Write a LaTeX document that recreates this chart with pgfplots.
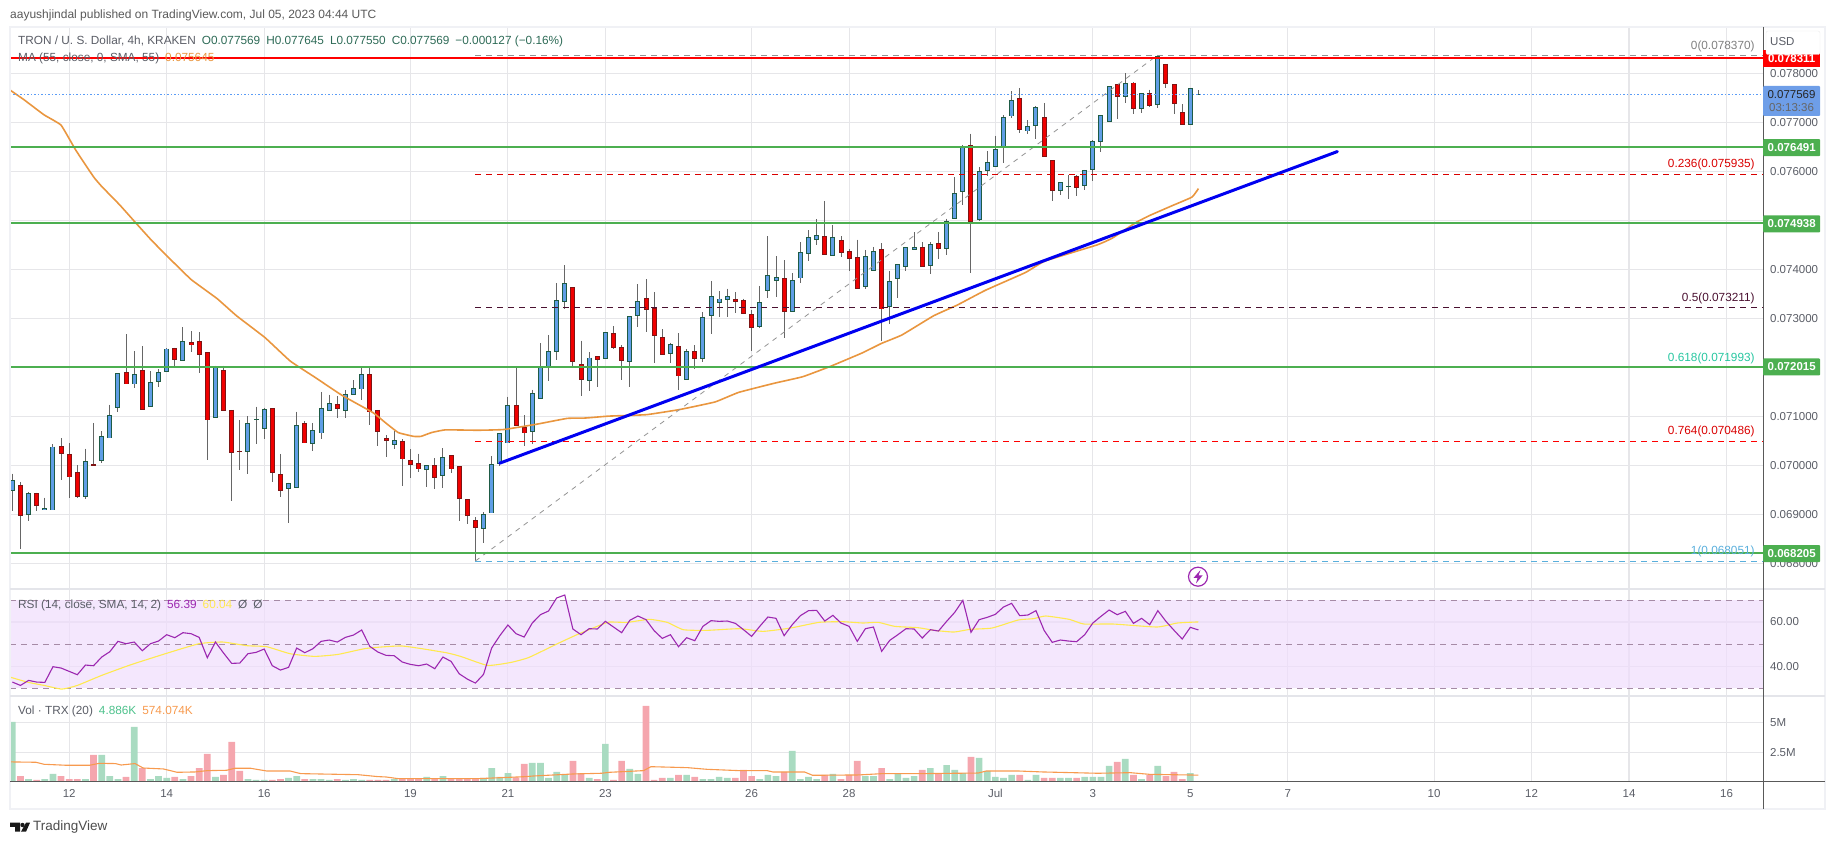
\documentclass[border=0pt]{standalone}
\usepackage{fontspec}
\setmainfont{Liberation Sans}
\usepackage{pgfplots}
\usepackage{pgfplotstable}
\pgfplotsset{compat=1.18}
\definecolor{gridc}{HTML}{E6E6E9}
\definecolor{sepc}{HTML}{E4E5EA}
\definecolor{framec}{HTML}{F0F1F5}
\definecolor{upf}{HTML}{5F9EE6}
\definecolor{upb}{HTML}{1E5B45}
\definecolor{dnf}{HTML}{F00000}
\definecolor{dnb}{HTML}{7F1414}
\definecolor{wick}{HTML}{666666}
\definecolor{lvl}{HTML}{4CAF50}
\definecolor{maline}{HTML}{E9963F}
\definecolor{txt}{HTML}{5A5D66}
\definecolor{ohlc}{HTML}{2E6B57}
\definecolor{rsip}{HTML}{9C27B0}
\definecolor{rsiy}{HTML}{FFE94F}
\definecolor{volg}{HTML}{A9DBC1}
\definecolor{volr}{HTML}{F5A6AE}
\definecolor{volma}{HTML}{F79A4E}
% price columns in thousandths of a dollar (0.069835 -> 69.835), volume in millions
\pgfplotstableread{
i d h t b l v
0 1 69.835 69.695 69.484 69.070 5.03
1 0 69.656 69.593 68.976 68.289 .50
2 1 69.460 69.429 68.992 68.859 .25
3 0 69.445 69.429 69.179 69.070 .17
4 1 69.343 69.117 69.093 69.085 .25
5 1 70.436 70.374 69.093 69.085 .67
6 0 70.553 70.382 70.249 69.703 .50
7 0 70.451 70.225 69.765 69.335 .25
8 0 70.007 69.859 69.359 69.343 .25
9 1 70.342 70.077 69.367 69.320 .25
10 0 70.865 70.015 70.000 69.992 2.26
11 1 70.693 70.592 70.093 70.046 2.26
12 1 71.240 71.013 70.561 70.553 .50
13 1 71.880 71.872 71.177 71.084 .25
14 0 72.676 71.895 71.661 71.653 .42
15 1 72.332 71.856 71.661 71.583 4.61
16 0 72.426 71.934 71.138 71.138 1.15
17 1 71.919 71.693 71.201 71.193 .25
18 1 71.958 71.895 71.708 71.607 .50
19 1 72.387 72.372 71.919 71.911 .34
20 0 72.403 72.387 72.153 72.036 .42
21 1 72.816 72.528 72.137 72.129 .25
22 0 72.738 72.504 72.457 72.309 .50
23 0 72.715 72.528 72.254 71.880 1.17
24 0 72.309 72.301 70.927 70.108 2.35
25 1 72.036 71.997 70.974 70.966 .42
26 0 72.036 71.934 71.115 71.107 .59
27 0 71.130 71.123 70.256 69.280 3.35
28 0 70.919 70.279 70.272 69.905 .92
29 1 71.005 70.857 70.279 69.827 .25
30 1 71.201 70.935 70.927 70.436 .17
31 1 71.177 71.138 70.748 70.537 .17
32 0 71.162 71.162 69.850 69.656 .17
33 0 70.233 69.811 69.484 69.351 .25
34 1 69.648 69.632 69.523 68.828 .34
35 1 71.099 70.810 69.546 69.538 .50
36 0 70.904 70.857 70.459 70.451 .25
37 1 70.865 70.709 70.443 70.295 .25
38 1 71.497 71.162 70.662 70.537 .25
39 1 71.443 71.263 71.123 71.115 .17
40 0 71.411 71.240 71.154 70.974 .25
41 1 71.529 71.443 71.115 70.974 .17
42 1 71.739 71.568 71.443 71.427 .25
43 1 72.020 71.856 71.560 71.333 .17
44 0 72.020 71.856 71.091 70.826 .17
45 0 71.130 71.123 70.685 70.397 .17
46 0 70.615 70.545 70.506 70.170 .17
47 1 70.693 70.506 70.428 70.334 .25
48 0 70.537 70.490 70.132 69.578 .25
49 0 70.334 70.093 70.015 69.741 .25
50 0 70.240 70.038 69.928 69.874 .25
51 1 70.007 69.991 69.913 69.554 .42
52 0 70.147 69.991 69.749 69.515 .25
53 1 70.350 70.163 69.788 69.546 .50
54 0 70.202 70.202 69.928 69.843 .25
55 0 69.983 69.975 69.320 68.859 .25
56 0 69.312 69.304 68.976 68.804 .25
57 0 68.944 68.874 68.726 68.051 .25
58 1 69.046 68.999 68.710 68.421 .34
59 1 70.186 70.015 69.030 69.023 1.17
60 1 70.654 70.647 70.046 69.983 .42
61 1 71.404 71.224 70.459 70.451 .75
62 0 72.012 71.224 70.810 70.802 .39
63 0 71.021 70.771 70.662 70.397 1.51
64 1 71.544 71.466 70.693 70.436 1.59
65 1 72.496 72.012 71.357 71.349 1.59
66 1 72.660 72.325 72.020 71.724 .34
67 1 73.714 73.355 72.325 72.153 .84
68 1 74.081 73.706 73.339 73.183 .59
69 0 73.636 73.628 72.122 71.997 1.76
70 0 72.543 72.051 71.747 71.419 .75
71 1 72.309 72.192 71.731 71.513 .34
72 0 72.231 72.223 72.153 71.607 .25
73 1 72.715 72.707 72.176 72.168 3.18
74 0 72.840 72.692 72.403 72.372 .17
75 0 72.450 72.403 72.137 71.747 1.76
76 1 73.043 73.035 72.122 71.607 1.09
77 1 73.699 73.339 73.051 72.816 .67
78 0 73.800 73.402 73.175 72.723 6.37
79 0 73.535 73.199 72.645 72.083 .17
80 0 72.777 72.606 72.254 72.246 .34
81 1 72.504 72.465 72.286 72.083 .34
82 0 72.699 72.426 71.825 71.544 .59
83 1 72.364 72.325 71.755 71.747 .59
84 0 72.450 72.325 72.176 71.958 .42
85 1 73.129 73.020 72.176 72.114 .25
86 1 73.761 73.441 73.051 72.676 .25
87 1 73.558 73.394 73.316 73.035 .42
88 1 73.605 73.441 73.378 73.027 .34
89 0 73.535 73.386 73.339 73.105 .34
90 0 73.402 73.363 73.090 73.082 1.01
91 0 73.168 73.074 72.809 72.340 .50
92 1 73.660 73.324 72.832 72.793 .25
93 1 74.674 73.870 73.566 73.410 .59
94 1 74.261 73.831 73.769 73.433 .50
95 0 74.183 73.808 73.137 72.606 .84
96 1 73.925 73.769 73.137 73.129 2.60
97 1 74.557 74.339 73.823 73.714 .25
98 1 74.799 74.651 74.323 74.167 .42
99 1 75.018 74.690 74.604 74.503 .25
100 0 75.393 74.667 74.300 74.292 .59
101 1 74.901 74.651 74.276 74.269 .67
102 0 74.674 74.589 74.339 74.253 .25
103 0 74.417 74.362 74.214 73.972 .59
104 0 74.604 74.237 73.605 73.597 1.76
105 1 74.393 74.261 73.644 73.597 .50
106 1 74.456 74.362 73.972 73.964 .50
107 0 74.534 74.401 73.191 72.543 1.17
108 1 73.964 73.753 73.238 72.879 .25
109 1 74.105 74.097 73.808 73.418 .75
110 1 74.456 74.448 74.050 73.964 .34
111 1 74.760 74.448 74.401 74.386 .50
112 0 74.557 74.448 74.050 74.042 1.01
113 1 74.557 74.503 74.073 73.901 1.17
114 0 74.760 74.526 74.417 74.206 .75
115 1 75.033 74.971 74.417 74.292 1.42
116 1 75.877 75.549 75.033 75.026 1.01
117 1 76.525 76.501 75.580 75.315 .75
118 0 76.767 76.525 74.971 73.933 2.09
119 1 76.087 75.994 75.010 74.987 2.01
120 1 76.407 76.181 76.009 75.900 .92
121 1 76.720 76.446 76.095 76.079 .42
122 1 77.149 77.094 76.478 76.173 .34
123 1 77.633 77.446 77.126 77.094 .59
124 0 77.696 77.485 76.845 76.782 .59
125 1 77.040 76.915 76.821 76.767 .17
126 1 77.321 77.297 76.930 76.665 .59
127 0 77.391 77.094 76.298 76.290 .34
128 0 76.220 76.212 75.603 75.400 .34
129 1 75.775 75.767 75.603 75.510 .34
130 1 75.923 75.689 75.681 75.439 .34
131 0 75.916 75.892 75.666 75.502 .34
132 1 76.025 76.017 75.705 75.619 .42
133 1 76.626 76.610 76.033 75.806 .42
134 1 77.149 77.133 76.610 76.400 .42
135 1 77.735 77.727 77.016 77.009 1.34
136 0 77.774 77.766 77.524 77.071 1.68
137 1 78.000 77.789 77.524 77.399 1.93
138 0 77.813 77.797 77.274 77.172 .59
139 1 77.594 77.586 77.274 77.196 .25
140 0 77.664 77.586 77.336 77.313 .59
141 1 78.370 78.336 77.360 77.297 1.34
142 0 78.187 78.180 77.781 77.703 .50
143 0 77.774 77.766 77.375 77.172 .84
144 0 77.367 77.196 76.946 76.946 .25
145 1 77.696 77.688 76.954 76.946 .75
146 1 77.645 77.569 77.569 77.550 .08
}\ohlcv
\pgfplotstableread{
i r
0 32.73
1 31.21
2 33.48
3 32.73
4 32.57
5 39.70
6 39.09
7 37.58
8 36.06
9 40.45
10 40.15
11 44.09
12 46.51
13 51.21
14 50.15
15 50.91
16 46.97
17 50.15
18 51.36
19 54.24
20 52.88
21 55.15
22 54.70
23 53.03
24 43.79
25 50.91
26 45.91
27 41.21
28 41.36
29 45.60
30 46.21
31 47.73
32 40.15
33 38.18
34 39.39
35 48.18
36 46.06
37 47.88
38 51.21
39 51.82
40 50.91
41 53.03
42 54.09
43 56.36
44 48.94
45 46.36
46 44.85
47 44.70
48 41.82
49 40.76
50 40.15
51 40.91
52 38.79
53 44.09
54 42.12
55 36.51
56 34.09
57 32.27
58 36.21
59 48.18
60 53.79
61 58.64
62 54.70
63 53.18
64 59.55
65 63.33
66 65.00
67 70.91
68 72.27
69 56.82
70 54.24
71 56.97
72 56.82
73 60.30
74 57.73
75 55.15
76 60.76
77 62.73
78 61.06
79 56.06
80 52.57
81 54.24
82 48.79
83 52.88
84 51.51
85 58.03
86 60.61
87 60.30
88 60.45
89 59.39
90 56.51
91 53.48
92 58.03
93 62.27
94 61.67
95 53.79
96 58.79
97 62.88
98 65.15
99 65.30
100 60.45
101 63.03
102 59.55
103 58.03
104 51.21
105 56.97
106 57.73
107 46.67
108 51.67
109 54.24
110 56.97
111 56.82
112 52.73
113 56.51
114 55.91
115 60.30
116 64.39
117 69.85
118 55.30
119 61.06
120 62.12
121 63.48
122 66.82
123 68.48
124 62.88
125 63.18
126 65.15
127 56.21
128 50.76
129 51.82
130 51.36
131 51.06
132 54.24
133 59.55
134 62.58
135 65.45
136 63.33
137 64.85
138 59.39
139 61.67
140 58.79
141 65.15
142 60.30
143 56.21
144 52.27
145 57.58
146 56.39
}\rsidata
\newcommand\smalltxt{\fontsize{11.5}{13.5}\selectfont}
\begin{document}
\begin{tikzpicture}[font=\fontsize{11.8}{14}\selectfont]
\useasboundingbox (0pt,0pt) rectangle (1835pt,845pt);
\pgfplotsset{
  panel/.style={
    scale only axis, width=1753.4pt, xmin=-0.287, xmax=215.54,
    axis line style={draw=none}, major tick length=0pt, grid=major,
    grid style={color=gridc,line width=1.1pt},
    xtick={7,19,31,49,61,73,91,103,121,133,145,157,175,187,199,211},
    clip=true,
    yticklabel pos=right,
    yticklabel style={anchor=west,inner sep=0pt,xshift=6.5pt,text=txt,font=\smalltxt},
  },
  ebar/.style n args={3}{draw=none,mark=none,forget plot,
    restrict expr to domain={\thisrow{d}}{#2:#2},
    error bars/.cd,y dir=minus,y explicit,error mark=none,
    error bar style={line width=#3,draw=#1,solid}},
  fibdash/.style={dash pattern=on 6pt off 5pt},
}
% main price panel
\begin{axis}[panel, at={(10pt,256pt)}, anchor=south west, height=562pt,
  ymin=67.480, ymax=78.940,
  ytick={68,69,70,71,72,73,74,75,76,77,78},
  yticklabels={0.068000,0.069000,0.070000,0.071000,0.072000,0.073000,0.074000,0.075000,0.076000,0.077000,0.078000},
  xticklabels={}]
\addplot[ebar={wick}{1}{1pt}] table[x=i,y=h,y error minus expr=\thisrow{h}-\thisrow{l}] {\ohlcv};
\addplot[ebar={upb}{1}{5pt}] table[x=i,y expr=\thisrow{t}+0.008,y error minus expr=\thisrow{t}-\thisrow{b}+0.016] {\ohlcv};
\addplot[ebar={upf}{1}{3pt}] table[x=i,y expr=\thisrow{t}-0.008,y error minus expr={max(\thisrow{t}-\thisrow{b}-0.016,0)}] {\ohlcv};
\addplot[ebar={wick}{0}{1pt}] table[x=i,y=h,y error minus expr=\thisrow{h}-\thisrow{l}] {\ohlcv};
\addplot[ebar={dnb}{0}{5pt}] table[x=i,y expr=\thisrow{t}+0.008,y error minus expr=\thisrow{t}-\thisrow{b}+0.016] {\ohlcv};
\addplot[ebar={dnf}{0}{3pt}] table[x=i,y expr=\thisrow{t}-0.008,y error minus expr={max(\thisrow{t}-\thisrow{b}-0.016,0)}] {\ohlcv};
% moving average
\addplot[maline,line width=1.6pt,smooth,tension=0.2] coordinates {(-0.3,77.656)(1.4,77.461)(3.9,77.149)(6,76.938)(7.8,76.431)(10,75.884)(11,75.689)(13.2,75.315)(15.1,74.963)(17.1,74.596)(19.1,74.261)(22,73.792)(25.2,73.402)(27.6,73.051)(31.1,72.606)(34.2,72.129)(37.2,71.802)(40.6,71.427)(44.4,71.076)(45.8,70.888)(47.5,70.670)(49.4,70.592)(50.3,70.592)(51.6,70.670)(53.3,70.725)(57.3,70.717)(60.5,70.732)(64.6,70.842)(68.3,70.959)(70.5,70.966)(73.4,71.005)(76.2,71.021)(78.2,71.037)(82.1,71.138)(86.5,71.294)(89.4,71.489)(93.8,71.676)(97.3,71.809)(100.7,72.020)(104.6,72.293)(107,72.489)(109.5,72.660)(113.4,73.051)(116.3,73.269)(119.8,73.573)(124.7,73.933)(127.1,74.167)(133.5,74.495)(135.4,74.635)(138.4,74.963)(140.1,75.104)(142.8,75.299)(145.2,75.471)(146,75.645)};
% fibonacci
\addplot[gray!85,line width=0.8pt,dash pattern=on 5pt off 5pt] coordinates {(57,68.051)(141,78.370)};
\addplot[gray!85,line width=0.7pt,fibdash] coordinates {(57,78.370)(215.5,78.370)};
\addplot[red!85!black,line width=0.7pt,fibdash] coordinates {(57,75.935)(215.5,75.935)};
\addplot[color={rgb,255:red,74;green,16;blue,48},line width=0.9pt,fibdash] coordinates {(57,73.211)(215.5,73.211)};
\addplot[color={rgb,255:red,38;green,198;blue,160},line width=0.9pt,fibdash] coordinates {(57,71.993)(215.5,71.993)};
\addplot[red,line width=0.9pt,fibdash] coordinates {(57,70.486)(215.5,70.486)};
\addplot[color={rgb,255:red,90;green,175;blue,220},line width=0.8pt,fibdash] coordinates {(57,68.051)(215.5,68.051)};
% last price
\addplot[color={rgb,255:red,91;green,156;blue,246},line width=1pt,dash pattern=on 1.5pt off 2pt] coordinates {(-0.3,77.569)(215.5,77.569)};
% horizontal levels
\addplot[lvl,line width=2pt] coordinates {(-0.3,76.491)(215.5,76.491)};
\addplot[lvl,line width=2pt] coordinates {(-0.3,74.938)(215.5,74.938)};
\addplot[lvl,line width=2pt] coordinates {(-0.3,72.015)(215.5,72.015)};
\addplot[lvl,line width=2pt] coordinates {(-0.3,68.205)(215.5,68.205)};
\addplot[red,line width=2pt] coordinates {(-0.3,78.311)(215.5,78.311)};
% trend line
\addplot[color={rgb,255:red,0;green,0;blue,240},line width=3pt,line cap=round] coordinates {(60,70.046)(163.1,76.400)};
\node[anchor=south east,inner sep=1pt,yshift=2pt,text=gray] at (axis cs:214.6,78.370) {0(0.078370)};
\node[anchor=south east,inner sep=1pt,yshift=3pt,text=red!85!black] at (axis cs:214.6,75.935) {0.236(0.075935)};
\node[anchor=south east,inner sep=1pt,yshift=3pt,text={rgb,255:red,74;green,16;blue,48}] at (axis cs:214.6,73.211) {0.5(0.073211)};
\node[anchor=south east,inner sep=1pt,yshift=3pt,text={rgb,255:red,38;green,198;blue,160}] at (axis cs:214.6,71.993) {0.618(0.071993)};
\node[anchor=south east,inner sep=1pt,yshift=3pt,text=red!85!black] at (axis cs:214.6,70.486) {0.764(0.070486)};
\node[anchor=south east,inner sep=1pt,yshift=3pt,text={rgb,255:red,90;green,175;blue,220}] at (axis cs:214.6,68.051) {1(0.068051)};
\end{axis}
% RSI panel
\begin{axis}[panel, at={(10pt,149pt)}, anchor=south west, height=107pt,
  ymin=26.4, ymax=75,
  ytick={40,60}, yticklabels={40.00,60.00}, xticklabels={}]
\addplot[fill={rgb,255:red,239;green,221;blue,252},fill opacity=0.7,draw=none,forget plot] coordinates {(-0.287,70)(215.5,70)(215.5,30)(-0.287,30)} -- cycle;
\addplot[color=gray!70!violet!70,line width=0.8pt,fibdash] coordinates {(-0.287,70)(215.5,70)};
\addplot[color=gray!70!violet!70,line width=0.8pt,fibdash] coordinates {(-0.287,50)(215.5,50)};
\addplot[color=gray!70!violet!70,line width=0.8pt,fibdash] coordinates {(-0.287,30)(215.5,30)};
\addplot[rsiy,line width=1.1pt,smooth,tension=0.3] coordinates {(-0.3,34.99)(2,32.57)(3.9,31.21)(6.1,29.54)(8,31.21)(11,35.76)(14.6,40.61)(19.1,45.91)(23,50.15)(25.9,50.91)(28.9,49.24)(31.3,48.79)(34.2,45.60)(37.2,44.39)(40.1,45.30)(43.6,48.03)(48,49.09)(53.4,46.06)(55.3,44.24)(58.5,40.30)(61.4,41.67)(63.6,43.94)(67.1,50.15)(69.5,54.24)(72.5,58.79)(73.5,60)(75.7,59.85)(78.4,61.21)(80.6,59.85)(82.6,56.51)(85.5,56.21)(89.5,56.97)(92.4,55.76)(95.8,57.27)(99.3,59.85)(102.2,60.15)(104.7,59.55)(106.6,59.85)(108.6,58.03)(111.5,57.42)(113.5,56.21)(115.9,55.45)(117.9,56.67)(120.6,57.27)(123.8,60.91)(125.7,61.52)(127.2,62.73)(130.1,61.21)(131.9,59.09)(135.5,59.09)(140.9,57.73)(143.4,59.55)(146,60.04)};
\addplot[rsip,line width=1.1pt] table[x=i,y=r] {\rsidata};
\end{axis}
% volume panel
\begin{axis}[panel, at={(10pt,63pt)}, anchor=south west, height=86pt,
  ymin=0, ymax=7.19,
  ytick={2.5,5}, yticklabels={2.5M,5M},
  xticklabels={12,14,16,19,21,23,26,28,Jul,3,5,7,10,12,14,16},
  xticklabel style={inner sep=0pt,yshift=-7pt,text=txt,font=\smalltxt}]
\addplot[ybar,bar width=6.7pt,bar shift=0pt,fill=volg,draw=none,restrict expr to domain={\thisrow{d}}{1:1}] table[x=i,y=v] {\ohlcv};
\addplot[ybar,bar width=6.7pt,bar shift=0pt,fill=volr,draw=none,restrict expr to domain={\thisrow{d}}{0:0}] table[x=i,y=v] {\ohlcv};
\addplot[volma,line width=1.1pt] coordinates {(-0.3,1.68)(2.9,1.65)(3.9,1.48)(6.6,1.40)(9.5,1.40)(10.7,1.56)(12.7,1.54)(13.4,1.42)(15.1,1.54)(16.1,1.17)(18.6,1.09)(20.3,0.81)(22.5,0.84)(24,0.95)(26.4,0.98)(27.4,1.15)(29.3,1.15)(31.3,0.92)(34.2,0.92)(35.5,0.70)(42.6,0.61)(45,0.45)(46,0.42)(47.5,0.28)(57.3,0.28)(63.2,0.45)(64.1,0.50)(69,0.67)(72.5,0.73)(73.5,0.81)(77.7,0.95)(78.6,1.28)(83.1,1.20)(85.5,1.06)(89.5,0.95)(92.9,0.95)(93.6,0.84)(97.5,0.84)(98.5,0.56)(104.2,0.59)(107.1,0.70)(112,0.70)(118.9,0.75)(119.9,0.92)(123.8,0.92)(126.8,0.84)(133.6,0.73)(137.6,0.78)(140,0.64)(146,0.574)};
\end{axis}
% frame and separators
\draw[framec,line width=2.4pt] (10pt,818pt) rectangle (1825pt,36pt);
\draw[sepc,line width=1.6pt] (10pt,256pt) -- (1825pt,256pt);
\draw[sepc,line width=1.6pt] (10pt,149pt) -- (1825pt,149pt);
\draw[color=black!65,line width=1pt] (10pt,63pt) -- (1825pt,63pt);
\draw[color=black!65,line width=1pt] (1763.4pt,818pt) -- (1763.4pt,36pt);
% price tags
\foreach \yy/\lab in {697.4/0.076491,621.2/0.074938,478/0.072015,291.3/0.068205}{
  \node[fill=lvl,text=white,anchor=west,inner sep=0pt,minimum width=57pt,minimum height=17pt,rounded corners=1pt,font=\bfseries\fontsize{11.5}{14}\selectfont] at (1763pt,\yy pt) {\lab};
}
\node[fill=red,text=white,anchor=west,inner sep=0pt,minimum width=57pt,minimum height=17pt,font=\bfseries\fontsize{11.5}{14}\selectfont] at (1763pt,786pt) {0.078311};
\fill[color={rgb,255:red,110;green,158;blue,232},rounded corners=1pt] (1763pt,759pt) rectangle (1820pt,729pt);
\node[text=black!85,anchor=center,inner sep=0pt,font=\smalltxt] at (1791.5pt,750pt) {0.077569};
\node[text=black!60,anchor=center,inner sep=0pt,font=\smalltxt] at (1791.5pt,737pt) {03:13:36};
\draw[fill=white,draw=black!8,rounded corners=2pt] (1766pt,814pt) rectangle (1820pt,790.5pt);
\node[text=txt,anchor=west,inner sep=0pt,font=\smalltxt] at (1770pt,803pt) {USD};
% texts
\node[anchor=west,inner sep=0pt,text=black!65,font=\fontsize{12}{14}\selectfont] at (10pt,830pt) {aayushjindal published on TradingView.com, Jul 05, 2023 04:44 UTC};
\node[anchor=west,inner sep=0pt,text=txt] at (18pt,804pt) {TRON / U. S. Dollar, 4h, KRAKEN\hspace{6pt}\textcolor{ohlc}{O0.077569\hspace{6pt}H0.077645\hspace{6pt}L0.077550\hspace{6pt}C0.077569\hspace{6pt}−0.000127 (−0.16\%)}};
\node[anchor=west,inner sep=0pt,text=txt] at (18pt,786.5pt) {MA (55, close, 0, SMA, 55)\hspace{6pt}\textcolor{maline}{0.075645}};
\node[anchor=west,inner sep=0pt,text=txt] at (18pt,240pt) {RSI (14, close, SMA, 14, 2)\hspace{6pt}\textcolor{rsip}{56.39}\hspace{6pt}\textcolor{rsiy}{60.04}\hspace{6pt}Ø\hspace{6pt}Ø};
\node[anchor=west,inner sep=0pt,text=txt] at (18pt,133.5pt) {Vol · TRX (20)\hspace{6pt}\textcolor{teal!70!green!70}{4.886K}\hspace{6pt}\textcolor{volma}{574.074K}};
% lightning icon
\draw[color=rsip,line width=1.2pt] (1198pt,268.3pt) circle (9.5pt);
\fill[color=rsip] (1200.5pt,275pt) -- (1193.5pt,267pt) -- (1197.5pt,267pt) -- (1196pt,261.5pt) -- (1202.5pt,269.5pt) -- (1198.5pt,269.5pt) -- cycle;
% logo
\fill[black!90] (10pt,22.3pt) -- (20pt,22.3pt) -- (20pt,13.3pt) -- (15pt,13.3pt) -- (15pt,18pt) -- (10pt,18pt) -- cycle;
\fill[black!90] (22.5pt,20pt) circle (2.2pt);
\fill[black!90] (26pt,22.3pt) -- (30pt,22.3pt) -- (26pt,13.3pt) -- (21pt,13.3pt) -- cycle;
\node[anchor=west,inner sep=0pt,text=black!70,font=\fontsize{13.5}{16}\selectfont] at (33pt,18pt) {TradingView};
\end{tikzpicture}
\end{document}
